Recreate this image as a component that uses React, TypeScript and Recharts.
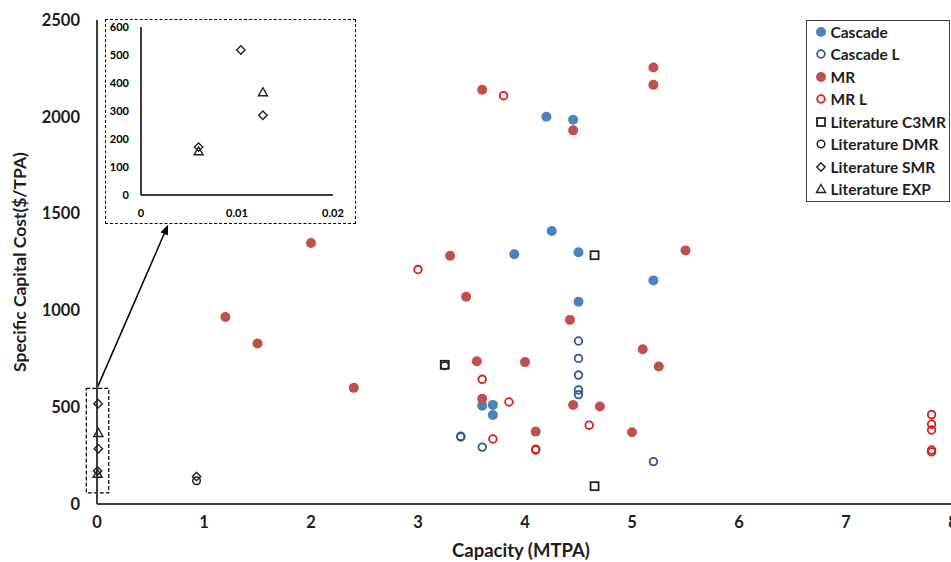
import React from "react"
import {
  ScatterChart,
  Scatter,
  XAxis,
  YAxis,
  Legend,
  ReferenceArea,
  ReferenceLine,
} from "recharts"

// values (x = MTPA, y = $/TPA)
const cascade = [
  { x: 4.2, y: 2000 }, { x: 4.45, y: 1985 }, { x: 4.25, y: 1410 }, { x: 3.9, y: 1290 },
  { x: 4.5, y: 1300 }, { x: 5.2, y: 1155 }, { x: 4.5, y: 1045 }, { x: 3.6, y: 508 },
  { x: 3.7, y: 512 }, { x: 3.7, y: 460 },
]
const cascadeL = [
  { x: 4.5, y: 842 }, { x: 4.5, y: 752 }, { x: 4.5, y: 666 }, { x: 4.5, y: 589 },
  { x: 4.5, y: 565 }, { x: 3.4, y: 350 }, { x: 3.4, y: 346 }, { x: 3.6, y: 294 },
  { x: 5.2, y: 219 },
]
const mr = [
  { x: 3.6, y: 2140 }, { x: 5.2, y: 2255 }, { x: 5.2, y: 2165 }, { x: 4.45, y: 1930 },
  { x: 2.0, y: 1348 }, { x: 3.3, y: 1282 }, { x: 5.5, y: 1310 }, { x: 3.45, y: 1071 },
  { x: 1.2, y: 966 }, { x: 1.5, y: 829 }, { x: 4.42, y: 951 }, { x: 2.4, y: 600 },
  { x: 5.1, y: 799 }, { x: 3.55, y: 737 }, { x: 4.0, y: 733 }, { x: 5.25, y: 710 },
  { x: 3.6, y: 544 }, { x: 4.45, y: 511 }, { x: 4.7, y: 504 }, { x: 4.1, y: 374 },
  { x: 5.0, y: 371 },
]
const mrL = [
  { x: 3.8, y: 2109 }, { x: 3.0, y: 1211 }, { x: 3.6, y: 644 }, { x: 3.85, y: 527 },
  { x: 4.6, y: 407 }, { x: 3.7, y: 336 }, { x: 4.1, y: 283 }, { x: 4.1, y: 279 },
  { x: 7.8, y: 462 }, { x: 7.8, y: 412 }, { x: 7.8, y: 382 }, { x: 7.8, y: 279 },
  { x: 7.8, y: 269 },
]
const litC3mr = [{ x: 3.25, y: 719 }, { x: 4.65, y: 1285 }, { x: 4.65, y: 92 }]
const litDmr = [{ x: 0.93, y: 120 }, { x: 3.25, y: 714 }]
const litSmr = [{ x: 0.0104, y: 518 }, { x: 0.0127, y: 285 }, { x: 0.006, y: 171 }, { x: 0.93, y: 142 }]
const litExp = [{ x: 0.0127, y: 367 }, { x: 0.006, y: 156 }]

const xTicks = [0, 1, 2, 3, 4, 5, 6, 7, 8]
const yTicks = [0, 500, 1000, 1500, 2000, 2500]
const insetXTicks = [0, 0.01, 0.02]
const insetYTicks = [0, 100, 200, 300, 400, 500, 600]

const FONT = "Lato, 'Open Sans', sans-serif"
const AXIS = "#3f3f3f"
const TEXT = "#1e1e1e"

type Marker = (cx: number, cy: number) => React.ReactElement

const filled = (color: string): Marker => (cx, cy) => <circle cx={cx} cy={cy} r={5} fill={color} />
const hollow = (color: string): Marker => (cx, cy) => (
  <circle cx={cx} cy={cy} r={3.8} fill="none" stroke={color} strokeWidth={1.8} />
)
const square: Marker = (cx, cy) => (
  <rect x={cx - 4} y={cy - 4} width={8} height={8} fill="none" stroke="#222" strokeWidth={1.8} />
)
const ring: Marker = (cx, cy) => <circle cx={cx} cy={cy} r={3.8} fill="none" stroke="#222" strokeWidth={1.5} />
const diamond: Marker = (cx, cy) => (
  <path d={`M${cx},${cy - 4.2}L${cx + 4.2},${cy}L${cx},${cy + 4.2}L${cx - 4.2},${cy}Z`} fill="none" stroke="#222" strokeWidth={1.4} />
)
const triangle: Marker = (cx, cy) => (
  <path d={`M${cx},${cy - 4.5}L${cx + 4.5},${cy + 3.5}L${cx - 4.5},${cy + 3.5}Z`} fill="none" stroke="#222" strokeWidth={1.4} />
)

const series = [
  { name: "Cascade", data: cascade, marker: filled("#4f81bd") },
  { name: "Cascade L", data: cascadeL, marker: hollow("#2f5597") },
  { name: "MR", data: mr, marker: filled("#c0504d") },
  { name: "MR L", data: mrL, marker: hollow("#d71c1c") },
  { name: "Literature C3MR", data: litC3mr, marker: square },
  { name: "Literature DMR", data: litDmr, marker: ring },
  { name: "Literature SMR", data: litSmr, marker: diamond },
  { name: "Literature EXP", data: litExp, marker: triangle },
]

const shapeOf = (m: Marker) => (p: any) => m(p.cx, p.cy)

function LegendBox() {
  return (
    <div
      style={{
        border: "1.5px solid #404040",
        background: "#fff",
        width: 144,
        boxSizing: "border-box",
        fontFamily: FONT,
        fontWeight: 700,
        fontSize: 15.5,
        color: TEXT,
      }}
    >
      {series.map((s) => (
        <div key={s.name} style={{ height: 22.5, display: "flex", alignItems: "center", paddingLeft: 7, whiteSpace: "nowrap" }}>
          <svg width={14} height={14} style={{ marginRight: 2.5, flex: "none" }}>
            {s.marker(7, 7)}
          </svg>
          <span>{s.name}</span>
        </div>
      ))}
    </div>
  )
}

function YTitle(props: any) {
  const vb = props.viewBox || { x: 0, y: 20, height: 484 }
  const x = vb.x + 19
  const y = vb.y + vb.height / 2
  return (
    <text x={x} y={y} transform={`rotate(-90, ${x}, ${y})`} textAnchor="middle" dominantBaseline="central"
      fontFamily={FONT} fontWeight={700} fontSize={17.5} fill={TEXT}>
      Specific Capital Cost($/TPA)
    </text>
  )
}

function XTitle(props: any) {
  const vb = props.viewBox || { x: 97, y: 504, width: 856 }
  return (
    <text x={vb.x + vb.width / 2 - 4} y={vb.y + 53} textAnchor="middle"
      fontFamily={FONT} fontWeight={700} fontSize={18.5} fill={TEXT}>
      Capacity (MTPA)
    </text>
  )
}

function Arrow(props: any) {
  const { x1, y1, x2, y2 } = props
  const a = Math.atan2(y2 - y1, x2 - x1)
  const len = 10
  const w = 4
  const bx = x2 - len * Math.cos(a)
  const by = y2 - len * Math.sin(a)
  const pts = [
    [x2, y2],
    [bx + w * Math.sin(a), by - w * Math.cos(a)],
    [bx - w * Math.sin(a), by + w * Math.cos(a)],
  ]
  return (
    <g>
      <line x1={x1} y1={y1} x2={bx} y2={by} stroke="#000" strokeWidth={1.5} />
      <polygon points={pts.map((p) => p.join(",")).join(" ")} fill="#000" />
    </g>
  )
}

const tickStyle = { fontFamily: FONT, fontWeight: 700, fontSize: 16.5, fill: TEXT }
const insetTick = { fontFamily: FONT, fontWeight: 700, fontSize: 11, fill: "#000" }

export default function App() {
  const inZoom = (pts: { x: number; y: number }[]) => pts.filter((p) => p.x <= 0.02)

  return (
    <div style={{ position: "fixed", left: 0, top: 0, width: 951, height: 562, overflow: "hidden", background: "#fff" }}>
      <ScatterChart width={960} height={562} margin={{ top: 20, right: 7, bottom: 0, left: 0 }}>
        <XAxis
          type="number"
          dataKey="x"
          domain={[0, 8]}
          ticks={xTicks}
          interval={0}
          height={58}
          tickLine={false}
          tickMargin={6}
          axisLine={{ stroke: AXIS, strokeWidth: 2 }}
          tick={tickStyle}
          label={XTitle}
        />
        <YAxis
          type="number"
          dataKey="y"
          domain={[0, 2500]}
          ticks={yTicks}
          interval={0}
          width={97}
          tickLine={false}
          tickMargin={11}
          axisLine={{ stroke: AXIS, strokeWidth: 2 }}
          tick={tickStyle}
          label={YTitle}
        />
        <ReferenceArea
          x1={-0.1}
          x2={0.11}
          y1={57}
          y2={597}
          ifOverflow="visible"
          fill="none"
          stroke="#000"
          strokeWidth={1.2}
          strokeDasharray="4 2"
        />
        <ReferenceLine
          segment={[{ x: 0, y: 597 }, { x: 0.665, y: 1443 }]}
          ifOverflow="visible"
          shape={Arrow}
        />
        {series.map((s) => (
          <Scatter key={s.name} name={s.name} data={s.data} shape={shapeOf(s.marker)} isAnimationActive={false} />
        ))}
        <Legend
          layout="vertical"
          align="center"
          verticalAlign="middle"
          content={LegendBox}
          wrapperStyle={{ left: 806, top: 19.5, width: 144, height: 184 }}
        />
      </ScatterChart>

      <div
        style={{
          position: "absolute",
          left: 105,
          top: 19,
          width: 251,
          height: 205,
          border: "1.5px dashed #000",
          boxSizing: "border-box",
          background: "#fff",
        }}
      >
        <ScatterChart width={248} height={202} margin={{ top: 7, right: 21, bottom: 0, left: 0 }}>
          <XAxis
            type="number"
            dataKey="x"
            domain={[0, 0.02]}
            ticks={insetXTicks}
            interval={0}
            height={27}
            tickLine={false}
            tickMargin={8}
            axisLine={{ stroke: "#000", strokeWidth: 1.5 }}
            tick={insetTick}
          />
          <YAxis
            type="number"
            dataKey="y"
            domain={[0, 600]}
            ticks={insetYTicks}
            interval={0}
            width={35}
            tickLine={false}
            tickMargin={6}
            axisLine={{ stroke: "#000", strokeWidth: 1.5 }}
            tick={insetTick}
          />
          <Scatter name="Literature SMR" data={inZoom(litSmr)} shape={shapeOf(diamond)} isAnimationActive={false} />
          <Scatter name="Literature EXP" data={inZoom(litExp)} shape={shapeOf(triangle)} isAnimationActive={false} />
        </ScatterChart>
      </div>
    </div>
  )
}
